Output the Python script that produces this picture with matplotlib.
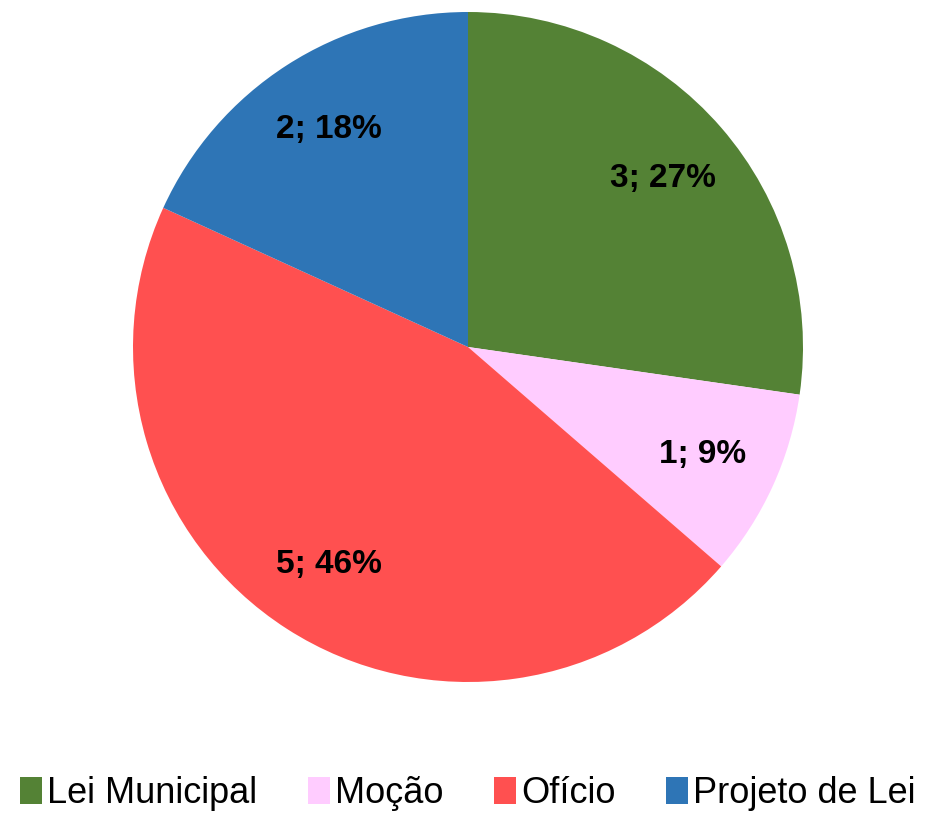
import matplotlib.pyplot as plt

categories = ['Lei Municipal', 'Moção', 'Ofício', 'Projeto de Lei']
counts = [3, 1, 5, 2]
labels = ['3; 27%', '1; 9%', '5; 46%', '2; 18%']
colors = ['#548235', '#FFCCFF', '#FF5050', '#2E75B6']

plt.rcParams['font.family'] = ['Liberation Sans', 'DejaVu Sans']

fig = plt.figure(figsize=(9.36, 8.15), dpi=100)
ax = fig.add_axes([133 / 936, 133 / 815, 670 / 936, 670 / 815])

lab_iter = iter(labels)
wedges, texts, autotexts = ax.pie(
    counts, colors=colors, startangle=90, counterclock=False,
    autopct=lambda p: next(lab_iter), pctdistance=0.77, radius=1,
    textprops={'fontsize': 24, 'fontweight': 'bold', 'color': 'black'})
ax.set_xlim(-1, 1)
ax.set_ylim(-1, 1)
ax.set_aspect('equal')

fig.legend(wedges, categories, loc='lower center', ncol=4, frameon=False,
           fontsize=26, bbox_to_anchor=(0.5, -0.035), handlelength=0.6,
           handleheight=0.8, handletextpad=0.15, columnspacing=1.4)

fig.savefig('out.png', dpi=100)
